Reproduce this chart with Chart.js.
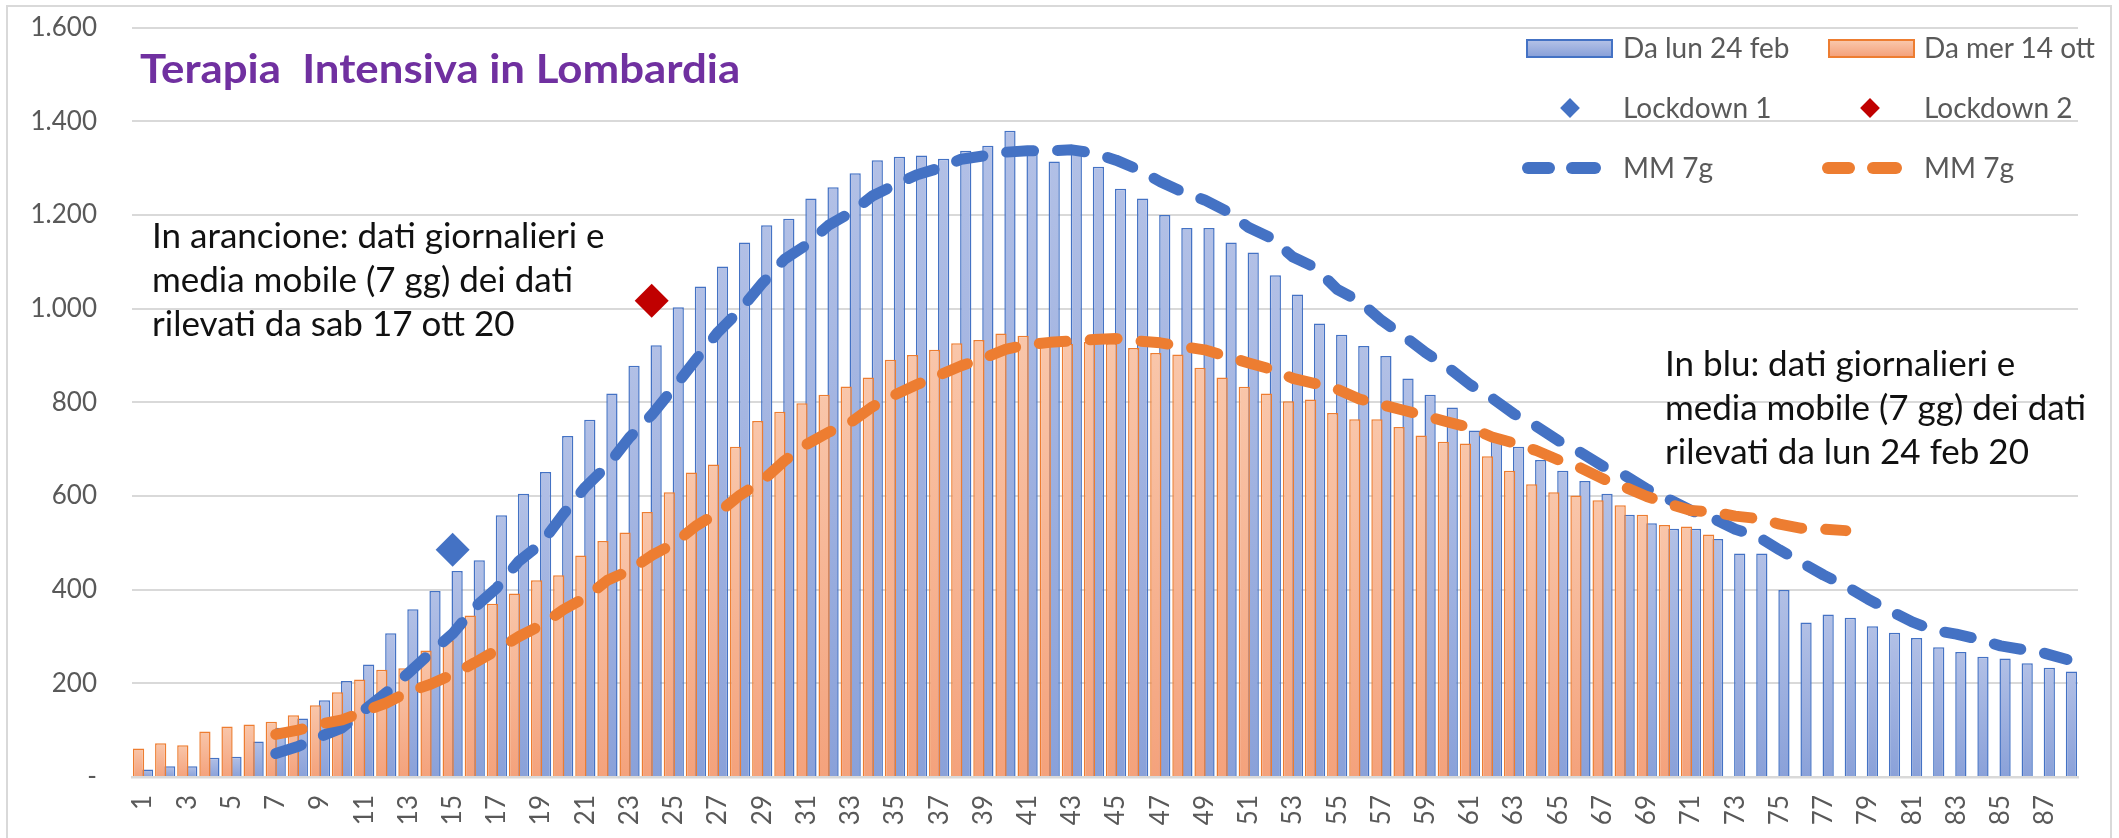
<!DOCTYPE html>
<html>
<head>
<meta charset="utf-8">
<title>Terapia Intensiva in Lombardia</title>
<script src="https://cdn.jsdelivr.net/npm/chart.js@4.4.1/dist/chart.umd.min.js"></script>
<style>
  html, body { margin: 0; padding: 0; background: #fff; }
  #wrap { position: relative; width: 2119px; height: 838px; overflow: hidden; font-family: Lato, "Open Sans", sans-serif; }
  #frame { position: absolute; left: 6px; top: 5px; width: 2106px; height: 900px; border: 2px solid #D9D9D9; box-sizing: border-box; }
  #chart { position: absolute; left: 0; top: 0; }
  .title { position: absolute; left: 140px; top: 48px; font-size: 40px; line-height: 40px; font-weight: 700; color: #7030A0; white-space: pre; transform-origin: 0 0; }
  .note { position: absolute; font-size: 35px; line-height: 44px; color: #111; white-space: pre; }
  .lg { position: absolute; font-size: 28px; line-height: 28px; color: #595959; white-space: pre; }
  .box { position: absolute; width: 87px; height: 19px; box-sizing: border-box; border: 2px solid; }
  .dia { position: absolute; width: 14px; height: 14px; transform: rotate(45deg); }
</style>
</head>
<body>
<div id="wrap">
  <div id="frame"></div>
  <canvas id="chart" width="2119" height="838"></canvas>

  <div class="title" id="title">Terapia  Intensiva in Lombardia</div>

  <div class="note" style="left:152px; top:212px;">In arancione: dati giornalieri e
media mobile (7 gg) dei dati
rilevati da sab 17 ott 20</div>
  <div class="note" style="left:1665px; top:340px;">In blu: dati giornalieri e
media mobile (7 gg) dei dati
rilevati da lun 24 feb 20</div>

  <!-- legend -->
  <div class="box" style="left:1526px; top:39px; border-color:#4472C4; background:linear-gradient(#B2C0E6,#8AA1D9);"></div>
  <div class="lg" style="left:1623px; top:33px;">Da lun 24 feb</div>
  <div class="box" style="left:1828px; top:39px; border-color:#ED7D31; background:linear-gradient(#F9C6AA,#F4A27C);"></div>
  <div class="lg" style="left:1924px; top:33px;">Da mer 14 ott</div>

  <div class="dia" style="left:1563px; top:101px; background:#4472C4;"></div>
  <div class="lg" style="left:1623px; top:93px;">Lockdown 1</div>
  <div class="dia" style="left:1863px; top:101px; background:#C00000;"></div>
  <div class="lg" style="left:1924px; top:93px;">Lockdown 2</div>

  <svg style="position:absolute; left:1510px; top:156px;" width="100" height="24">
    <line x1="18" y1="12" x2="39" y2="12" stroke="#4472C4" stroke-width="12" stroke-linecap="round"/>
    <line x1="62" y1="12" x2="85" y2="12" stroke="#4472C4" stroke-width="12" stroke-linecap="round"/>
  </svg>
  <div class="lg" style="left:1623px; top:153px;">MM 7g</div>
  <svg style="position:absolute; left:1810px; top:156px;" width="100" height="24">
    <line x1="18" y1="12" x2="39" y2="12" stroke="#ED7D31" stroke-width="12" stroke-linecap="round"/>
    <line x1="63" y1="12" x2="86" y2="12" stroke="#ED7D31" stroke-width="12" stroke-linecap="round"/>
  </svg>
  <div class="lg" style="left:1924px; top:153px;">MM 7g</div>
</div>

<script>
// giorni (asse x)
const categories = ['1','2','3','4','5','6','7','8','9','10','11','12','13','14','15','16','17','18','19','20',
  '21','22','23','24','25','26','27','28','29','30','31','32','33','34','35','36','37','38','39','40',
  '41','42','43','44','45','46','47','48','49','50','51','52','53','54','55','56','57','58','59','60',
  '61','62','63','64','65','66','67','68','69','70','71','72','73','74','75','76','77','78','79','80',
  '81','82','83','84','85','86','87','88'];

// Da lun 24 feb (blu)
const blueBars = [16, 23, 23, 41, 43, 76, 105, 125, 164, 205, 240, 307, 358, 397, 440, 463, 559, 605, 651, 728,
  763, 819, 878, 922, 1003, 1047, 1090, 1141, 1178, 1192, 1235, 1259, 1289, 1317, 1324, 1327, 1320, 1337, 1348, 1380,
  1340, 1314, 1342, 1303, 1256, 1235, 1200, 1172, 1172, 1141, 1120, 1071, 1030, 968, 944, 920, 899, 851, 816, 789,
  740, 722, 705, 677, 654, 632, 605, 560, 542, 530, 530, 508, 477, 477, 399, 330, 347, 340, 322, 308,
  297, 277, 267, 257, 253, 243, 233, 225];

// Da mer 14 ott (arancione)
const orangeBars = [61, 72, 68, 97, 108, 112, 118, 132, 153, 181, 208, 229, 232, 270, 292, 345, 370, 392, 420, 431,
  473, 504, 522, 566, 608, 650, 667, 705, 760, 780, 798, 816, 834, 853, 891, 901, 912, 926, 933, 947,
  942, 929, 925, 929, 926, 916, 905, 902, 874, 853, 833, 819, 802, 806, 777, 764, 764, 747, 729, 716,
  712, 685, 654, 625, 608, 601, 591, 580, 560, 538, 535, 518];

// media mobile 7 giorni
const blueMM = [null, null, null, null, null, null, 50, 65, 86, 105, 143, 180, 222, 265, 306, 362, 404, 461, 498, 561,
  619, 665, 725, 773, 831, 891, 950, 997, 1054, 1105, 1136, 1178, 1205, 1241, 1264, 1286, 1300, 1319, 1326, 1334,
  1337, 1337, 1339, 1332, 1317, 1297, 1271, 1249, 1232, 1208, 1173, 1151, 1110, 1088, 1041, 1016, 975, 942, 906, 875,
  838, 809, 775, 749, 718, 693, 664, 644, 615, 593, 569, 552, 529, 514, 485, 458, 431, 408, 380, 355,
  331, 313, 305, 294, 280, 272, 264, 251];

const orangeMM = [null, null, null, null, null, null, 91, 100, 113, 122, 140, 158, 182, 198, 219, 244, 271, 300, 324, 357,
  383, 420, 441, 473, 498, 536, 564, 602, 632, 675, 710, 736, 757, 791, 816, 838, 858, 878, 894, 913,
  923, 928, 931, 934, 936, 931, 927, 919, 912, 898, 884, 871, 851, 840, 828, 807, 795, 783, 771, 758,
  746, 726, 713, 697, 677, 660, 637, 619, 599, 583, 569, 566, 557, 552, 540, 531, 529, 526];

// lockdown
const lockdown1Cats = ['15'];
const lockdown1Vals = [485];
const lockdown2Cats = ['24'];
const lockdown2Vals = [1017];

// asse y
const yTicks = [0, 200, 400, 600, 800, 1000, 1200, 1400, 1600];
const yTickLabels = ['-', '200', '400', '600', '800', '1.000', '1.200', '1.400', '1.600'];

const tickFont = { family: 'Lato', size: 26 };

// gradient per ogni barra, dall'alto verso la base
function barFill(top, bottom) {
  return function (c) {
    const chart = c.chart;
    const y = chart.scales && chart.scales.y;
    if (c.type !== 'data' || !y || c.raw == null) return bottom;
    const yTop = y.getPixelForValue(c.raw);
    const yBase = y.getPixelForValue(0);
    if (!isFinite(yTop) || yBase - yTop < 1) return bottom;
    const g = chart.ctx.createLinearGradient(0, yTop, 0, yBase);
    g.addColorStop(0, top);
    g.addColorStop(1, bottom);
    return g;
  };
}

const chart = new Chart(document.getElementById('chart'), {
  type: 'bar',
  data: {
    labels: categories,
    datasets: [
      {
        type: 'line',
        label: 'Lockdown 1',
        data: lockdown1Cats.map((c, i) => ({ x: c, y: lockdown1Vals[i] })),
        showLine: false,
        pointStyle: 'rectRot',
        pointRadius: 17,
        pointBackgroundColor: '#4472C4',
        pointBorderWidth: 0,
        order: 0
      },
      {
        type: 'line',
        label: 'Lockdown 2',
        data: lockdown2Cats.map((c, i) => ({ x: c, y: lockdown2Vals[i] })),
        showLine: false,
        pointStyle: 'rectRot',
        pointRadius: 17,
        pointBackgroundColor: '#C00000',
        pointBorderWidth: 0,
        order: 0
      },
      {
        type: 'line',
        label: 'MM 7g',
        data: orangeMM,
        borderColor: '#ED7D31',
        borderWidth: 11,
        borderDash: [27, 24],
        borderCapStyle: 'round',
        borderJoinStyle: 'round',
        pointRadius: 0,
        fill: false,
        order: 1
      },
      {
        type: 'line',
        label: 'MM 7g',
        data: blueMM,
        borderColor: '#4472C4',
        borderWidth: 11,
        borderDash: [27, 24],
        borderCapStyle: 'round',
        borderJoinStyle: 'round',
        pointRadius: 0,
        fill: false,
        order: 2
      },
      {
        label: 'Da mer 14 ott',
        data: orangeBars,
        backgroundColor: barFill('#F9C6AA', '#F4A27C'),
        borderColor: '#ED7D31',
        borderWidth: 1.5,
        categoryPercentage: 0.81,
        barPercentage: 1.255,
        order: 3
      },
      {
        label: 'Da lun 24 feb',
        data: blueBars,
        backgroundColor: barFill('#B2C0E6', '#8AA1D9'),
        borderColor: '#4472C4',
        borderWidth: 1.5,
        categoryPercentage: 0.81,
        barPercentage: 1.255,
        order: 4
      }
    ]
  },
  options: {
    responsive: false,
    animation: false,
    devicePixelRatio: 1,
    events: [],
    layout: { padding: { left: 0, top: 5, right: 41, bottom: 0 } },
    plugins: {
      legend: { display: false },
      tooltip: { enabled: false }
    },
    scales: {
      x: {
        offset: true,
        grid: { display: false, drawTicks: false },
        border: { display: true, color: '#D9D9D9', width: 2.5 },
        ticks: {
          autoSkip: false,
          minRotation: 90,
          maxRotation: 90,
          padding: 18,
          color: '#595959',
          font: tickFont,
          callback: (v, i) => (i % 2 === 0 ? categories[i] : '')
        },
        afterFit: s => { s.height = 61; }
      },
      y: {
        min: 0,
        max: 1600,
        afterBuildTicks: s => { s.ticks = yTicks.map(v => ({ value: v })); },
        // tacche invisibili: spostano le etichette a sinistra senza alzare l'area del grafico
        grid: { color: '#D9D9D9', lineWidth: 2, drawTicks: true, tickLength: 23, tickColor: 'rgba(0,0,0,0)' },
        border: { display: false },
        ticks: {
          padding: 12,
          color: '#595959',
          font: tickFont,
          callback: (v, i) => yTickLabels[i]
        },
        afterFit: s => { s.width = 132; }
      }
    }
  }
});

// il titolo nell'originale e' piu' largo: lo allargo fino a circa 600px
const t = document.getElementById('title');
t.style.transform = 'scaleX(' + (600 / t.offsetWidth) + ')';
</script>
</body>
</html>
